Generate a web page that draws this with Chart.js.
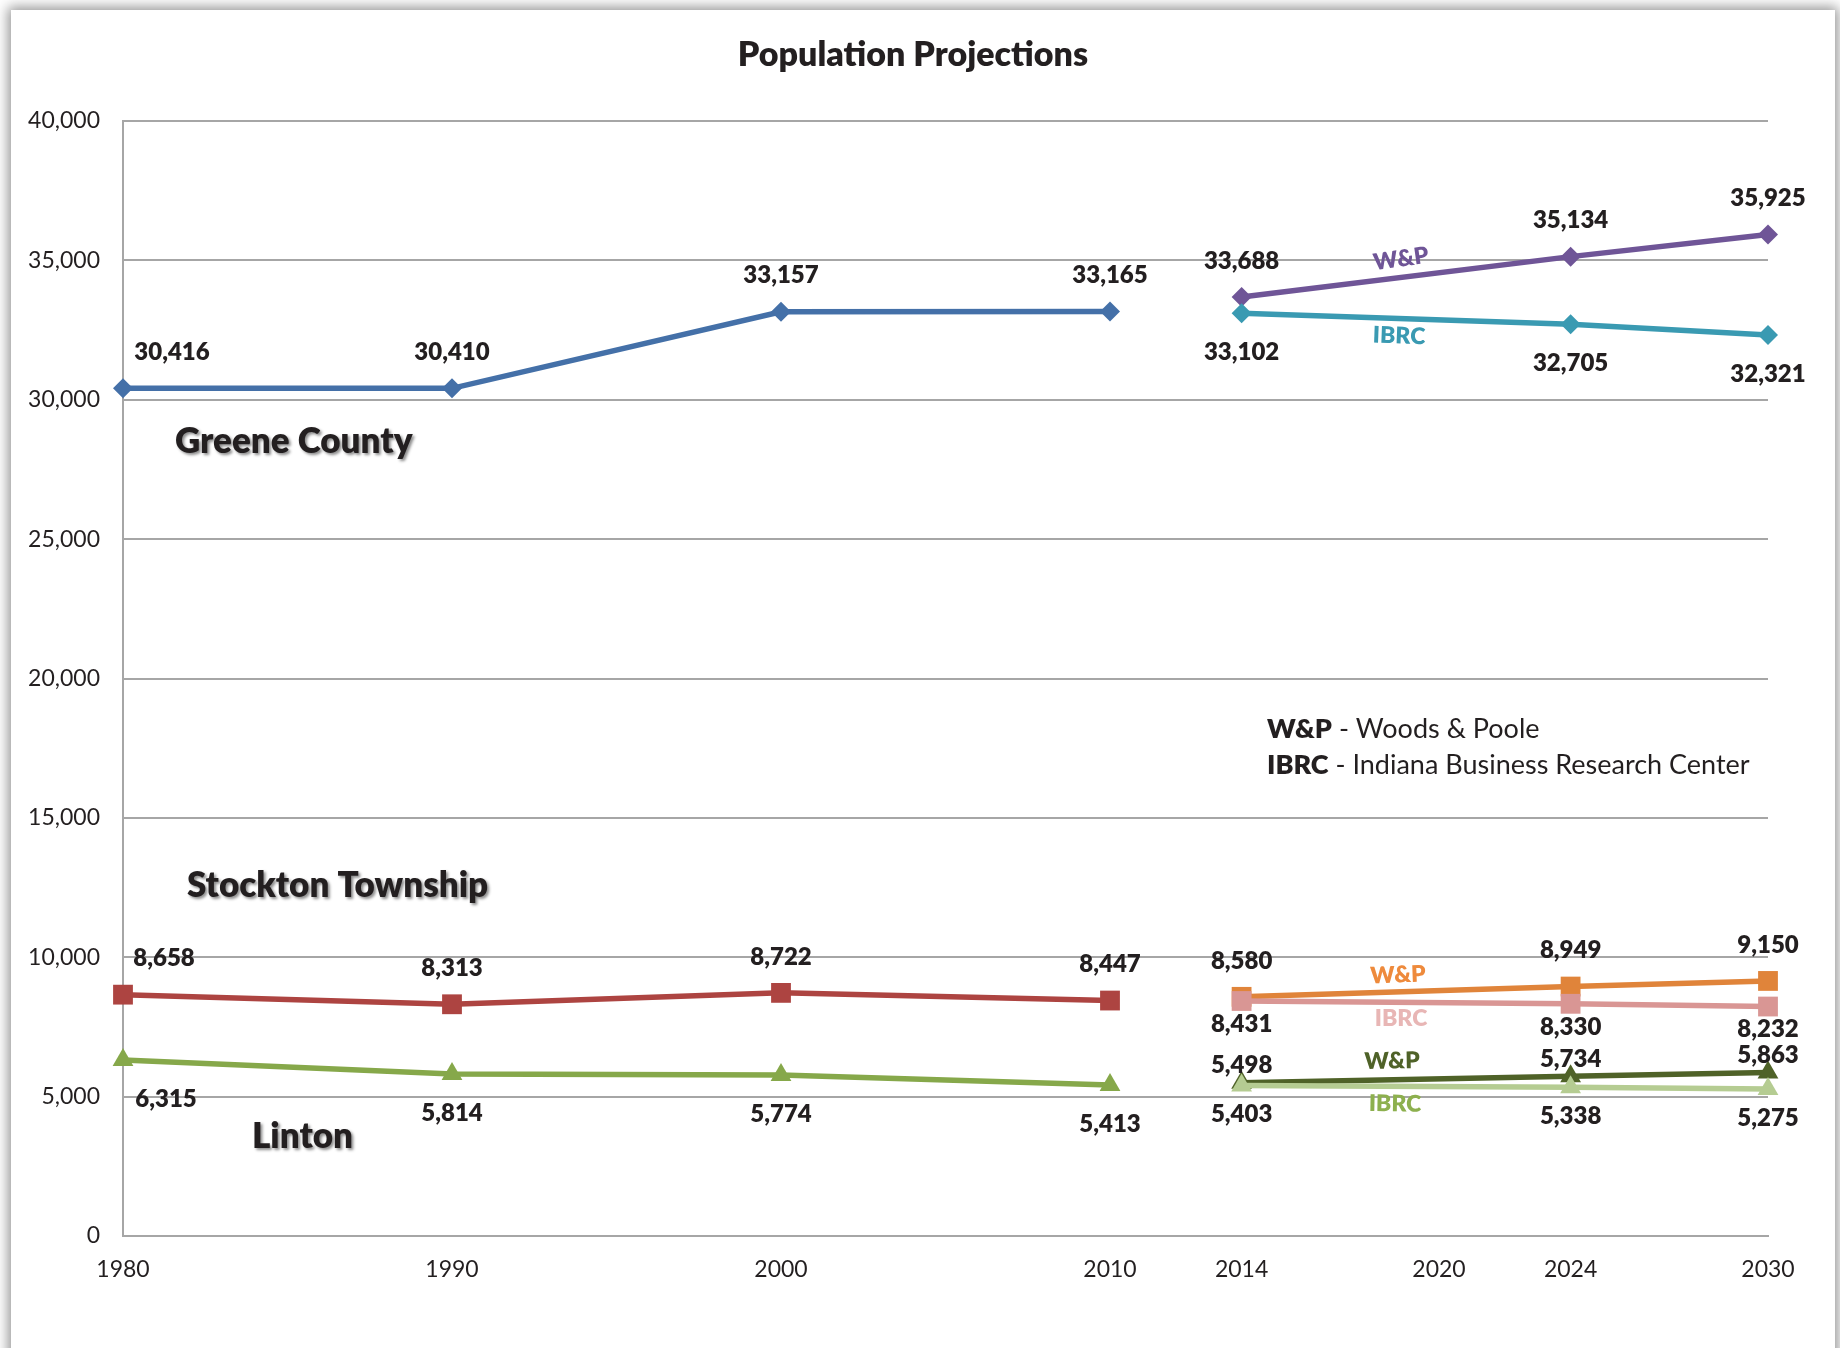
<!DOCTYPE html>
<html>
<head>
<meta charset="utf-8">
<title>Population Projections</title>
<script src="https://cdn.jsdelivr.net/npm/chart.js@4.4.1/dist/chart.umd.min.js"></script>
<style>
	html, body { margin: 0; padding: 0; background: #fff; overflow: hidden; }
	#frame { position: absolute; left: 11px; top: 10px; width: 1824px; height: 1400px; background: #fff; box-shadow: 0 0 12px 3px rgba(0,0,0,0.42); }
	#wrap { position: absolute; left: 0; top: 0; width: 1840px; height: 1348px; }
</style>
</head>
<body>
<div id="frame"></div>
<div id="wrap"><canvas id="grPop" width="1840" height="1348"></canvas></div>
<script>
var yearsHist = [1980, 1990, 2000, 2010];
var yearsProj = [2014, 2024, 2030];
var yearTicks = [1980, 1990, 2000, 2010, 2014, 2020, 2024, 2030];

var greeneHist = [30416, 30410, 33157, 33165];
var greeneWP = [33688, 35134, 35925];
var greeneIBRC = [33102, 32705, 32321];

var stocktonHist = [8658, 8313, 8722, 8447];
var stocktonWP = [8580, 8949, 9150];
var stocktonIBRC = [8431, 8330, 8232];

var lintonHist = [6315, 5814, 5774, 5413];
var lintonWP = [5498, 5734, 5863];
var lintonIBRC = [5403, 5338, 5275];

var FONT = 'Lato, "Open Sans", sans-serif';

function toPoints(years, vals) {
	var out = [];
	for (var i = 0; i < years.length; i++) {
		out.push({ x: years[i], y: vals[i] });
	}
	return out;
}

function series(label, years, vals, color, shape, radius, order, dy, dx0) {
	return {
		label: label,
		data: toPoints(years, vals),
		borderColor: color,
		backgroundColor: color,
		pointBackgroundColor: color,
		pointBorderWidth: 0,
		pointStyle: shape,
		pointRadius: radius,
		borderWidth: 5.5,
		tension: 0,
		clip: false,
		order: order,
		labelDy: dy,
		labelDx0: dx0 || 0
	};
}

// numbers next to each point
var valueLabels = {
	id: 'valueLabels',
	afterDatasetsDraw: function(chart) {
		var ctx = chart.ctx;
		ctx.save();
		ctx.font = '800 24px ' + FONT;
		ctx.fillStyle = '#231f20';
		ctx.textAlign = 'center';
		ctx.textBaseline = 'middle';
		chart.data.datasets.forEach(function(ds, i) {
			var meta = chart.getDatasetMeta(i);
			meta.data.forEach(function(pt, j) {
				var dx = j === 0 ? ds.labelDx0 : 0;
				ctx.fillText(ds.data[j].y.toLocaleString('en-US'), pt.x + dx, pt.y + ds.labelDy);
			});
		});
		ctx.restore();
	}
};

// title, place names, source tags and the abbreviation key
var notes = {
	id: 'notes',
	afterDraw: function(chart) {
		var ctx = chart.ctx;
		ctx.save();

		ctx.fillStyle = '#231f20';
		ctx.textAlign = 'center';
		ctx.textBaseline = 'middle';
		ctx.font = '800 34px ' + FONT;
		ctx.fillText('Population Projections', 913, 55);

		var tags = [
			['W&P', 1401, 259, '#6f5597', -8],
			['IBRC', 1399, 336, '#3a9ab2', 2],
			['W&P', 1398, 975, '#ee8a3c', -2],
			['IBRC', 1401, 1019, '#e8b6b5', 0],
			['W&P', 1392, 1061, '#4f6228', -1],
			['IBRC', 1395, 1104, '#8db04e', 1]
		];
		ctx.font = '800 23px ' + FONT;
		tags.forEach(function(t) {
			ctx.save();
			ctx.translate(t[1], t[2]);
			ctx.rotate(t[4] * Math.PI / 180);
			ctx.fillStyle = t[3];
			ctx.fillText(t[0], 0, 0);
			ctx.restore();
		});

		var places = [
			['Greene County', 175, 442],
			['Stockton Township', 187, 886],
			['Linton', 252, 1137]
		];
		ctx.textAlign = 'left';
		ctx.font = '800 35px ' + FONT;
		ctx.shadowColor = 'rgba(0,0,0,0.45)';
		ctx.shadowOffsetX = 2;
		ctx.shadowOffsetY = 2;
		ctx.shadowBlur = 3;
		places.forEach(function(p) {
			ctx.fillText(p[0], p[1], p[2]);
		});
		ctx.shadowColor = 'transparent';

		var key = [
			['W&P', ' - Woods & Poole', 729],
			['IBRC', ' - Indiana Business Research Center', 765]
		];
		key.forEach(function(k) {
			ctx.font = '800 27px ' + FONT;
			ctx.fillText(k[0], 1267, k[2]);
			var w = ctx.measureText(k[0]).width;
			ctx.font = '27px ' + FONT;
			ctx.fillText(k[1], 1267 + w, k[2]);
		});

		ctx.restore();
	}
};

function draw() {
	var ctx = document.getElementById('grPop').getContext('2d');
	window.popChart = new Chart(ctx, {
		type: 'line',
		data: {
			datasets: [
				series('Greene County', yearsHist, greeneHist, '#4470a8', 'rectRot', 10, 2, -36, 49),
				series('Greene County W&P', yearsProj, greeneWP, '#6f5597', 'rectRot', 10, 1, -36),
				series('Greene County IBRC', yearsProj, greeneIBRC, '#3a9ab2', 'rectRot', 10, 0, 39),
				series('Stockton Township', yearsHist, stocktonHist, '#ad4441', 'rect', 14, 2, -36, 41),
				series('Stockton Township W&P', yearsProj, stocktonWP, '#e0843a', 'rect', 14, 1, -36),
				series('Stockton Township IBRC', yearsProj, stocktonIBRC, '#d99694', 'rect', 14, 0, 23),
				series('Linton', yearsHist, lintonHist, '#86a84a', 'triangle', 12, 2, 39, 43),
				series('Linton W&P', yearsProj, lintonWP, '#4f6228', 'triangle', 12, 1, -17),
				series('Linton IBRC', yearsProj, lintonIBRC, '#b5cc92', 'triangle', 12, 0, 29)
			]
		},
		options: {
			responsive: false,
			animation: false,
			layout: { padding: { top: 121, right: 72, bottom: 0, left: 0 } },
			plugins: {
				legend: { display: false },
				title: { display: false },
				tooltip: { enabled: false }
			},
			scales: {
				x: {
					type: 'linear',
					min: 1980,
					max: 2030,
					afterBuildTicks: function(s) {
						s.ticks = yearTicks.map(function(v) { return { value: v }; });
					},
					afterFit: function(s) { s.height = 112; },
					ticks: {
						autoSkip: false,
						maxRotation: 0,
						padding: 20,
						color: '#231f20',
						font: { family: FONT, size: 23 },
						callback: function(v) { return String(v); }
					},
					grid: { display: false, drawTicks: false },
					border: { color: '#a6a6a6', width: 2 }
				},
				y: {
					min: 0,
					max: 40000,
					afterFit: function(s) { s.width = 123; },
					ticks: {
						stepSize: 5000,
						padding: 23,
						color: '#231f20',
						font: { family: FONT, size: 23 },
						callback: function(v) { return v.toLocaleString('en-US'); }
					},
					grid: { color: '#a6a6a6', lineWidth: 2, drawTicks: false },
					border: { color: '#a6a6a6', width: 2 }
				}
			}
		},
		plugins: [valueLabels, notes]
	});
}

Promise.all([
	document.fonts.load('23px Lato'),
	document.fonts.load('bold 23px Lato'),
	document.fonts.load('800 23px Lato')
]).then(draw, draw);
</script>
</body>
</html>
